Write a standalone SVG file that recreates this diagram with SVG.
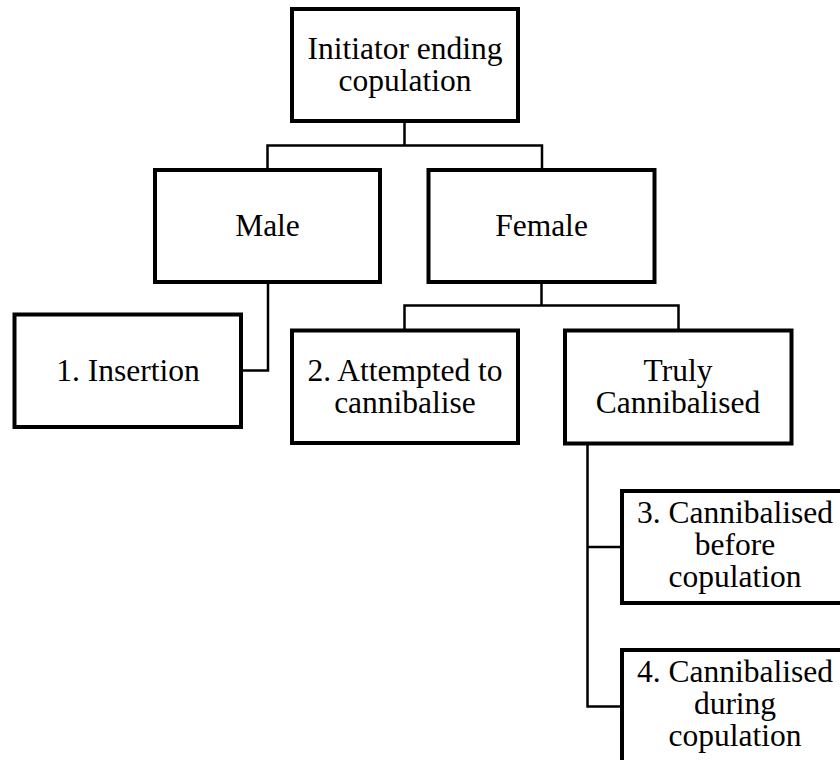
<svg xmlns="http://www.w3.org/2000/svg" width="840" height="760" viewBox="0 0 840 760">
<style>
.box{fill:#fff;stroke:#000;stroke-width:4}
.lbl{font-family:"Liberation Serif","Times New Roman",serif;font-size:31.5px;fill:#000;text-anchor:middle}
.con{fill:none;stroke:#000;stroke-width:2.5}
</style>
<rect width="840" height="760" fill="#fff"/>
<g id="connectors">
<path class="con" d="M404.5,121 V145.5 M267.5,145.5 H542 M267.5,144.3 V170 M542,144.3 V170"/>
<path class="con" d="M268,282 V370.5 H241"/>
<path class="con" d="M541.5,282 V305.5 M404.5,305.5 H678.5 M404.5,304.3 V330 M678.5,304.3 V330"/>
<path class="con" d="M587.5,443 V706.5 M587.5,547 H622 M586.3,706.5 H622"/>
</g>
<g id="n-initiator"><rect class="box" x="292" y="9" width="226" height="112"/><text class="lbl" x="405" y="59">Initiator ending</text><text class="lbl" x="405" y="91">copulation</text></g>
<g id="n-male"><rect class="box" x="155" y="170" width="225" height="112"/><text class="lbl" x="267.5" y="236">Male</text></g>
<g id="n-female"><rect class="box" x="428.5" y="170" width="226" height="112"/><text class="lbl" x="541.5" y="236">Female</text></g>
<g id="n-insertion"><rect class="box" x="14.5" y="314.5" width="226.5" height="112.5"/><text class="lbl" x="128" y="381">1. Insertion</text></g>
<g id="n-attempted"><rect class="box" x="292" y="330.5" width="226" height="112.5"/><text class="lbl" x="405" y="381">2. Attempted to</text><text class="lbl" x="405" y="413">cannibalise</text></g>
<g id="n-truly"><rect class="box" x="565" y="330.5" width="226.5" height="113"/><text class="lbl" x="678" y="381">Truly</text><text class="lbl" x="678" y="413">Cannibalised</text></g>
<g id="n-before"><rect class="box" x="622" y="491" width="226" height="112"/><text class="lbl" x="735" y="523">3. Cannibalised</text><text class="lbl" x="735" y="555">before</text><text class="lbl" x="735" y="587">copulation</text></g>
<g id="n-during"><rect class="box" x="622" y="650" width="226" height="112"/><text class="lbl" x="735" y="682">4. Cannibalised</text><text class="lbl" x="735" y="714">during</text><text class="lbl" x="735" y="746">copulation</text></g>
</svg>
